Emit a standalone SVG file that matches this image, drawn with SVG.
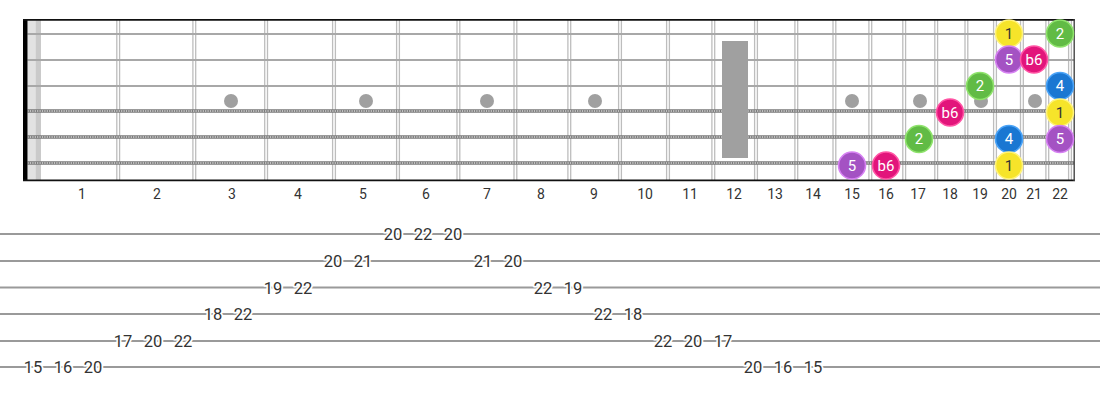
<svg xmlns="http://www.w3.org/2000/svg" width="1100" height="400" viewBox="0 0 1100 400">
<style>
.fret{stroke:#bdbdbd;stroke-width:1.3;fill:none}
.plain{stroke:#a8a8a8;stroke-width:2.2}
.woundbase{stroke:#7a7a7a;stroke-width:3.6}
.woundtex{stroke:#d8d8d8;stroke-width:1.4;stroke-dasharray:1.2 1.2}
.mark{fill:#a0a0a0}
.fnum{font-family:Roboto,'Liberation Sans',sans-serif;font-size:14px;fill:#333;text-anchor:middle}
.tabline{stroke:#9a9a9a;stroke-width:1.8}
.tab{font-family:Roboto,'Liberation Sans',sans-serif;font-size:16.5px;fill:#333;text-anchor:middle;stroke:#fff;stroke-width:3.5;paint-order:stroke;stroke-linejoin:round}
.nt{font-family:Roboto,'Liberation Sans',sans-serif;font-size:15px;text-anchor:middle;fill:#fff}
.nt.dark{fill:#333}
.c1{fill:#f6e42a;stroke:#fff37a;stroke-width:1.6}
.c2{fill:#61bb45;stroke:#8fe36c;stroke-width:1.6}
.c4{fill:#1a77d2;stroke:#4aa3f7;stroke-width:1.6}
.c5{fill:#a452c3;stroke:#d681f2;stroke-width:1.6}
.cb6{fill:#e2157b;stroke:#ff54a4;stroke-width:1.6}
</style>
<rect width="1100" height="400" fill="#fff"/>
<g id="fretboard">
  <rect x="27.5" y="20" width="8" height="160" fill="#e2e2e2"/>
  <rect x="35.5" y="20" width="5.5" height="160" fill="#cacaca"/>
  <g id="frets">
    <line class="fret" x1="116.8" y1="20" x2="116.8" y2="180"/><line class="fret" x1="119.6" y1="20" x2="119.6" y2="180"/>
    <line class="fret" x1="192.9" y1="20" x2="192.9" y2="180"/><line class="fret" x1="195.7" y1="20" x2="195.7" y2="180"/>
    <line class="fret" x1="264.7" y1="20" x2="264.7" y2="180"/><line class="fret" x1="267.5" y1="20" x2="267.5" y2="180"/>
    <line class="fret" x1="332.6" y1="20" x2="332.6" y2="180"/><line class="fret" x1="335.4" y1="20" x2="335.4" y2="180"/>
    <line class="fret" x1="396.6" y1="20" x2="396.6" y2="180"/><line class="fret" x1="399.4" y1="20" x2="399.4" y2="180"/>
    <line class="fret" x1="457.0" y1="20" x2="457.0" y2="180"/><line class="fret" x1="459.8" y1="20" x2="459.8" y2="180"/>
    <line class="fret" x1="514.0" y1="20" x2="514.0" y2="180"/><line class="fret" x1="516.8" y1="20" x2="516.8" y2="180"/>
    <line class="fret" x1="567.9" y1="20" x2="567.9" y2="180"/><line class="fret" x1="570.7" y1="20" x2="570.7" y2="180"/>
    <line class="fret" x1="618.6" y1="20" x2="618.6" y2="180"/><line class="fret" x1="621.4" y1="20" x2="621.4" y2="180"/>
    <line class="fret" x1="666.6" y1="20" x2="666.6" y2="180"/><line class="fret" x1="669.4" y1="20" x2="669.4" y2="180"/>
    <line class="fret" x1="711.9" y1="20" x2="711.9" y2="180"/><line class="fret" x1="714.7" y1="20" x2="714.7" y2="180"/>
    <line class="fret" x1="754.6" y1="20" x2="754.6" y2="180"/><line class="fret" x1="757.4" y1="20" x2="757.4" y2="180"/>
    <line class="fret" x1="794.9" y1="20" x2="794.9" y2="180"/><line class="fret" x1="797.7" y1="20" x2="797.7" y2="180"/>
    <line class="fret" x1="833.0" y1="20" x2="833.0" y2="180"/><line class="fret" x1="835.8" y1="20" x2="835.8" y2="180"/>
    <line class="fret" x1="868.9" y1="20" x2="868.9" y2="180"/><line class="fret" x1="871.7" y1="20" x2="871.7" y2="180"/>
    <line class="fret" x1="902.8" y1="20" x2="902.8" y2="180"/><line class="fret" x1="905.6" y1="20" x2="905.6" y2="180"/>
    <line class="fret" x1="934.8" y1="20" x2="934.8" y2="180"/><line class="fret" x1="937.6" y1="20" x2="937.6" y2="180"/>
    <line class="fret" x1="965.0" y1="20" x2="965.0" y2="180"/><line class="fret" x1="967.8" y1="20" x2="967.8" y2="180"/>
    <line class="fret" x1="993.6" y1="20" x2="993.6" y2="180"/><line class="fret" x1="996.4" y1="20" x2="996.4" y2="180"/>
    <line class="fret" x1="1020.5" y1="20" x2="1020.5" y2="180"/><line class="fret" x1="1023.3" y1="20" x2="1023.3" y2="180"/>
    <line class="fret" x1="1045.9" y1="20" x2="1045.9" y2="180"/><line class="fret" x1="1048.7" y1="20" x2="1048.7" y2="180"/>
    <line class="fret" x1="1068.6" y1="20" x2="1068.6" y2="180"/><line class="fret" x1="1071.4" y1="20" x2="1071.4" y2="180"/>
  </g>
  <g id="strings">
    <line class="plain" x1="27.5" y1="34" x2="1074" y2="34"/>
    <line class="plain" x1="27.5" y1="60" x2="1074" y2="60"/>
    <line class="plain" x1="27.5" y1="86" x2="1074" y2="86"/>
    <line class="woundbase" x1="27.5" y1="111" x2="1074" y2="111"/>
    <line class="woundtex" x1="27.5" y1="111" x2="1074" y2="111"/>
    <line class="woundbase" x1="27.5" y1="137" x2="1074" y2="137"/>
    <line class="woundtex" x1="27.5" y1="137" x2="1074" y2="137"/>
    <line class="woundbase" x1="27.5" y1="163" x2="1074" y2="163"/>
    <line class="woundtex" x1="27.5" y1="163" x2="1074" y2="163"/>
  </g>
  <g id="inlays">
    <circle class="mark" cx="231" cy="101" r="7"/>
    <circle class="mark" cx="366" cy="101" r="7"/>
    <circle class="mark" cx="487" cy="101" r="7"/>
    <circle class="mark" cx="595" cy="101" r="7"/>
    <rect class="mark" x="722" y="41" width="26" height="117"/>
    <circle class="mark" cx="852" cy="101" r="7"/>
    <circle class="mark" cx="920" cy="101" r="7"/>
    <circle class="mark" cx="981" cy="101" r="7"/>
    <circle class="mark" cx="1035" cy="101" r="7"/>
  </g>
  <rect x="23" y="19" width="4.5" height="162" fill="#000"/>
  <line x1="23" y1="19.8" x2="1075" y2="19.8" stroke="#111" stroke-width="1.8"/>
  <line x1="23" y1="180.3" x2="1075" y2="180.3" stroke="#111" stroke-width="1.8"/>
  <line x1="1074.2" y1="19" x2="1074.2" y2="181" stroke="#444" stroke-width="1.4"/>
  <g id="fret-numbers">
    <text class="fnum" x="82" y="199">1</text>
    <text class="fnum" x="157" y="199">2</text>
    <text class="fnum" x="232" y="199">3</text>
    <text class="fnum" x="298" y="199">4</text>
    <text class="fnum" x="363" y="199">5</text>
    <text class="fnum" x="426" y="199">6</text>
    <text class="fnum" x="487" y="199">7</text>
    <text class="fnum" x="541" y="199">8</text>
    <text class="fnum" x="594" y="199">9</text>
    <text class="fnum" x="645" y="199">10</text>
    <text class="fnum" x="690" y="199">11</text>
    <text class="fnum" x="734" y="199">12</text>
    <text class="fnum" x="775" y="199">13</text>
    <text class="fnum" x="813" y="199">14</text>
    <text class="fnum" x="852" y="199">15</text>
    <text class="fnum" x="886" y="199">16</text>
    <text class="fnum" x="918" y="199">17</text>
    <text class="fnum" x="950" y="199">18</text>
    <text class="fnum" x="980" y="199">19</text>
    <text class="fnum" x="1009" y="199">20</text>
    <text class="fnum" x="1034" y="199">21</text>
    <text class="fnum" x="1060" y="199">22</text>
  </g>
</g>
<g id="notes">
  <g id="n-s1-f20"><circle class="c1" cx="1009" cy="33.5" r="13.5"/><text class="nt dark" x="1009" y="38.8">1</text></g>
  <g id="n-s1-f22"><circle class="c2" cx="1060" cy="33.5" r="13.5"/><text class="nt" x="1060" y="38.8">2</text></g>
  <g id="n-s2-f20"><circle class="c5" cx="1009" cy="59.5" r="13.5"/><text class="nt" x="1009" y="64.8">5</text></g>
  <g id="n-s2-f21"><circle class="cb6" cx="1034" cy="59.5" r="13.5"/><text class="nt" x="1034" y="64.8">b6</text></g>
  <g id="n-s3-f19"><circle class="c2" cx="980" cy="86" r="13.5"/><text class="nt" x="980" y="91.3">2</text></g>
  <g id="n-s3-f22"><circle class="c4" cx="1060" cy="86" r="13.5"/><text class="nt" x="1060" y="91.3">4</text></g>
  <g id="n-s4-f18"><circle class="cb6" cx="950" cy="112.5" r="13.5"/><text class="nt" x="950" y="117.8">b6</text></g>
  <g id="n-s4-f22"><circle class="c1" cx="1060" cy="112.5" r="13.5"/><text class="nt dark" x="1060" y="117.8">1</text></g>
  <g id="n-s5-f17"><circle class="c2" cx="919" cy="139" r="13.5"/><text class="nt" x="919" y="144.3">2</text></g>
  <g id="n-s5-f20"><circle class="c4" cx="1009" cy="139" r="13.5"/><text class="nt" x="1009" y="144.3">4</text></g>
  <g id="n-s5-f22"><circle class="c5" cx="1060" cy="139" r="13.5"/><text class="nt" x="1060" y="144.3">5</text></g>
  <g id="n-s6-f15"><circle class="c5" cx="852" cy="165.5" r="13.5"/><text class="nt" x="852" y="170.8">5</text></g>
  <g id="n-s6-f16"><circle class="cb6" cx="886" cy="165.5" r="13.5"/><text class="nt" x="886" y="170.8">b6</text></g>
  <g id="n-s6-f20"><circle class="c1" cx="1009" cy="165.5" r="13.5"/><text class="nt dark" x="1009" y="170.8">1</text></g>
</g>
<g id="tab">
  <line class="tabline" x1="0" y1="234" x2="1100" y2="234"/>
  <line class="tabline" x1="0" y1="261" x2="1100" y2="261"/>
  <line class="tabline" x1="0" y1="287.5" x2="1100" y2="287.5"/>
  <line class="tabline" x1="0" y1="314" x2="1100" y2="314"/>
  <line class="tabline" x1="0" y1="341" x2="1100" y2="341"/>
  <line class="tabline" x1="0" y1="367" x2="1100" y2="367"/>
  <text class="tab" x="33" y="373">15</text>
  <text class="tab" x="63" y="373">16</text>
  <text class="tab" x="93" y="373">20</text>
  <text class="tab" x="123" y="347">17</text>
  <text class="tab" x="153" y="347">20</text>
  <text class="tab" x="183" y="347">22</text>
  <text class="tab" x="213" y="320">18</text>
  <text class="tab" x="243" y="320">22</text>
  <text class="tab" x="273" y="293.5">19</text>
  <text class="tab" x="303" y="293.5">22</text>
  <text class="tab" x="333" y="267">20</text>
  <text class="tab" x="363" y="267">21</text>
  <text class="tab" x="393" y="240">20</text>
  <text class="tab" x="423" y="240">22</text>
  <text class="tab" x="453" y="240">20</text>
  <text class="tab" x="483" y="267">21</text>
  <text class="tab" x="513" y="267">20</text>
  <text class="tab" x="543" y="293.5">22</text>
  <text class="tab" x="573" y="293.5">19</text>
  <text class="tab" x="603" y="320">22</text>
  <text class="tab" x="633" y="320">18</text>
  <text class="tab" x="663" y="347">22</text>
  <text class="tab" x="693" y="347">20</text>
  <text class="tab" x="723" y="347">17</text>
  <text class="tab" x="753" y="373">20</text>
  <text class="tab" x="783" y="373">16</text>
  <text class="tab" x="813" y="373">15</text>
</g>
</svg>
